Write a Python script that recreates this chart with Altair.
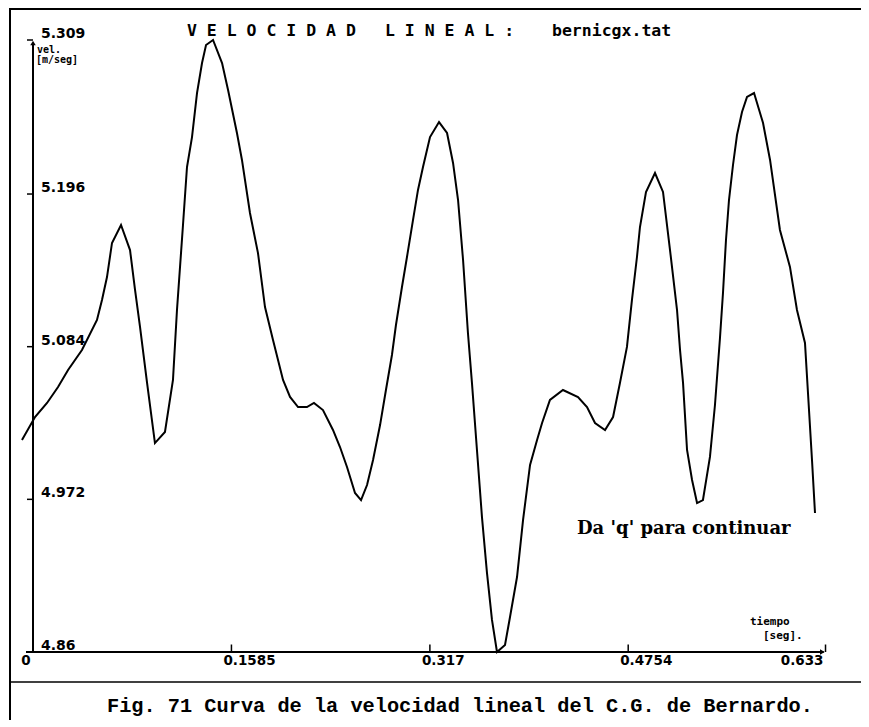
import altair as alt
import pandas as pd

# ---- data ----
time_s = [-0.0088, 0.0016, 0.0112, 0.0200, 0.0280, 0.0391, 0.0511, 0.0551, 0.0591, 0.0631,
          0.0703, 0.0775, 0.0815, 0.0855, 0.0911, 0.0974, 0.1054, 0.1118, 0.1150, 0.1198,
          0.1230, 0.1270, 0.1310, 0.1350, 0.1382, 0.1438, 0.1510, 0.1558, 0.1629, 0.1669,
          0.1733, 0.1797, 0.1853, 0.1917, 0.1997, 0.2053, 0.2117, 0.2188, 0.2244, 0.2316,
          0.2396, 0.2452, 0.2508, 0.2572, 0.2620, 0.2668, 0.2716, 0.2772, 0.2819, 0.2867,
          0.2899, 0.2947, 0.2987, 0.3035, 0.3075, 0.3115, 0.3171, 0.3243, 0.3307, 0.3355,
          0.3395, 0.3435, 0.3474, 0.3506, 0.3546, 0.3586, 0.3626, 0.3666, 0.3706, 0.3770,
          0.3810, 0.3866, 0.3914, 0.3970, 0.4026, 0.4066, 0.4129, 0.4233, 0.4353, 0.4425,
          0.4489, 0.4569, 0.4633, 0.4688, 0.4744, 0.4784, 0.4824, 0.4848, 0.4896, 0.4968,
          0.5032, 0.5088, 0.5144, 0.5168, 0.5192, 0.5224, 0.5264, 0.5304, 0.5351, 0.5407,
          0.5447, 0.5487, 0.5511, 0.5535, 0.5559, 0.5591, 0.5623, 0.5663, 0.5703, 0.5759,
          0.5831, 0.5887, 0.5966, 0.6046, 0.6102, 0.6166, 0.6190, 0.6222, 0.6246]
velocity = [5.0155, 5.0324, 5.0427, 5.0544, 5.0669, 5.0816, 5.1036, 5.1183, 5.1351, 5.1601,
            5.1733, 5.1549, 5.1256, 5.0984, 5.0574, 5.0133, 5.0214, 5.0596, 5.1109, 5.1733,
            5.2158, 5.2378, 5.2701, 5.2921, 5.3053, 5.3090, 5.2921, 5.2723, 5.2408, 5.2210,
            5.1821, 5.1527, 5.1131, 5.0889, 5.0596, 5.0471, 5.0397, 5.0397, 5.0427, 5.0375,
            5.0229, 5.0104, 4.9957, 4.9767, 4.9715, 4.9825, 5.0009, 5.0265, 5.0522, 5.0779,
            5.0999, 5.1278, 5.1498, 5.1769, 5.1990, 5.2158, 5.2378, 5.2488, 5.2408, 5.2188,
            5.1916, 5.1476, 5.0940, 5.0574, 5.0082, 4.9590, 4.9180, 4.8835, 4.8600, 4.8651,
            4.8857, 4.9150, 4.9568, 4.9972, 5.0155, 5.0280, 5.0449, 5.0522, 5.0471, 5.0397,
            5.0280, 5.0229, 5.0324, 5.0574, 5.0838, 5.1183, 5.1498, 5.1718, 5.1975, 5.2114,
            5.1975, 5.1549, 5.1109, 5.0816, 5.0574, 5.0082, 4.9862, 4.9693, 4.9715, 5.0031,
            5.0412, 5.0904, 5.1234, 5.1623, 5.1916, 5.2173, 5.2393, 5.2562, 5.2672, 5.2701,
            5.2481, 5.2210, 5.1696, 5.1425, 5.1109, 5.0867, 5.0500, 5.0009, 4.9620]

y_ticks = [4.86, 4.972, 5.084, 5.196, 5.309]
y_tick_labels = ["4.86", "4.972", "5.084", "5.196", "5.309"]
x_ticks = [0.0, 0.1585, 0.317, 0.4754, 0.633]
x_tick_labels = ["0", "0.1585", "0.317", "0.4754", "0.633"]

title_parts = ["V E L O C I D A D", "L I N E A L :", "bernicgx.tat"]
y_title = ["vel.", "[m/seg]"]
x_title = ["tiempo", "[seg]."]
prompt_text = "Da 'q' para continuar"
caption = "Fig. 71 Curva de la velocidad lineal del C.G. de Bernardo."

# ---- layout ----
W, H = 853, 712
XD = [-0.01997, 0.66134]
YD = [4.81011, 5.33248]
xs = alt.Scale(domain=XD, nice=False, zero=False)
ys = alt.Scale(domain=YD, nice=False, zero=False)
X0, X1 = x_ticks[0], x_ticks[-1]
V0, V1 = y_ticks[0], y_ticks[-1]
MONO = "DejaVu Sans Mono"
BOLD = "DejaVu Sans"


def px_t(px):
    """page x pixel -> time value (for decorations only)"""
    return XD[0] + (px - 8) / W * (XD[1] - XD[0])


def py_v(py):
    """page y pixel -> velocity value (for decorations only)"""
    return YD[1] - (py - 8) / H * (YD[1] - YD[0])


def X(f):
    return alt.X(f, type="quantitative", scale=xs, axis=None)


def Y(f):
    return alt.Y(f, type="quantitative", scale=ys, axis=None)


curve_df = pd.DataFrame({"t": time_s, "v": velocity, "i": list(range(len(time_s)))})
curve = alt.Chart(curve_df).mark_line(color="black", strokeWidth=2).encode(
    x=X("t"), y=Y("v"), order=alt.Order("i", type="quantitative"))


def seg(x1, y1, x2, y2, w=2):
    df = pd.DataFrame({"a": [x1], "b": [x2], "c": [y1], "d": [y2]})
    return alt.Chart(df).mark_rule(color="black", strokeWidth=w).encode(
        x=X("a"), x2=alt.X2("b"), y=Y("c"), y2=alt.Y2("d"))


def tri(t, v, shape):
    df = pd.DataFrame({"t": [t], "v": [v]})
    return alt.Chart(df).mark_point(shape=shape, size=30, filled=True, color="black",
                                    opacity=1).encode(x=X("t"), y=Y("v"))


def label(text, px, py, size=12, font=MONO, align="left"):
    df = pd.DataFrame({"s": [text], "t": [px_t(px)], "v": [py_v(py)]})
    return alt.Chart(df).mark_text(align=align, baseline="middle", font=font,
                                   fontWeight="bold", fontSize=size, color="black").encode(
        x=X("t"), y=Y("v"), text=alt.Text("s", type="nominal"))


# frame of the screen capture and caption divider
frame = [
    seg(px_t(10), py_v(9), px_t(861), py_v(9)),
    seg(px_t(10), py_v(8), px_t(10), py_v(720)),
    seg(px_t(10), py_v(682), px_t(861), py_v(682), 1.5),
]

# axes
axes = [
    seg(X0, V0, X0, V1 - 0.003),
    tri(X0, V1 - 0.0022, "triangle-up"),
    seg(px_t(26), V0, X1 - 0.0015, V0),
    tri(X1 - 0.0025, V0, "triangle-right"),
]

ytick_df = pd.DataFrame({"v": y_ticks, "lab": y_tick_labels,
                         "a": [X0 - 0.0048] * 5, "b": [X0] * 5, "lx": [X0 + 0.0064] * 5})
yticks = alt.Chart(ytick_df).mark_rule(color="black", strokeWidth=1.5).encode(
    x=X("a"), x2=alt.X2("b"), y=Y("v"))
ylabels = alt.Chart(ytick_df).mark_text(
    align="left", baseline="alphabetic", dy=-2, font=BOLD, fontWeight="bold", fontSize=14,
    color="black").encode(x=X("lx"), y=Y("v"), text=alt.Text("lab", type="nominal"))

xtick_df = pd.DataFrame({"t": x_ticks, "lab": x_tick_labels,
                         "a": [V0] * 5, "b": [V0 + 0.0055] * 5})
xticks = alt.Chart(xtick_df).mark_rule(color="black", strokeWidth=1.5).encode(
    x=X("t"), y=Y("a"), y2=alt.Y2("b"))


def xlab(rows, align, dx):
    return alt.Chart(xtick_df.iloc[rows].reset_index(drop=True)).mark_text(
        align=align, dx=dx, baseline="top", dy=2, font=BOLD, fontWeight="bold",
        fontSize=13.5, color="black").encode(
        x=X("t"), y=Y("a"), text=alt.Text("lab", type="nominal"))


xlabels = [xlab([0], "center", -7), xlab([1, 2, 3], "left", -8), xlab([4], "right", -2)]

texts = [
    label(title_parts[0], 187, 31, size=16.5),
    label(title_parts[1], 385, 31, size=16.5),
    label(title_parts[2], 552, 31, size=16.5),
    label(y_title[0], 37, 50, size=10),
    label(y_title[1], 36, 60, size=10),
    label(x_title[0], 750, 622, size=11),
    label(x_title[1], 763, 636, size=11),
    label(prompt_text, 577, 529, size=18, font="DejaVu Serif"),
    label(caption, 107, 706, size=20.3, font="Liberation Mono"),
]

chart = alt.layer(
    curve, *frame, *axes, yticks, ylabels, xticks, *xlabels, *texts,
).properties(
    width=W, height=H, padding=0,
    autosize=alt.AutoSizeParams(type="none"),
    background="white",
).configure_view(stroke=None)

chart.save("out.html", embed_options={"renderer": "svg", "actions": False})
